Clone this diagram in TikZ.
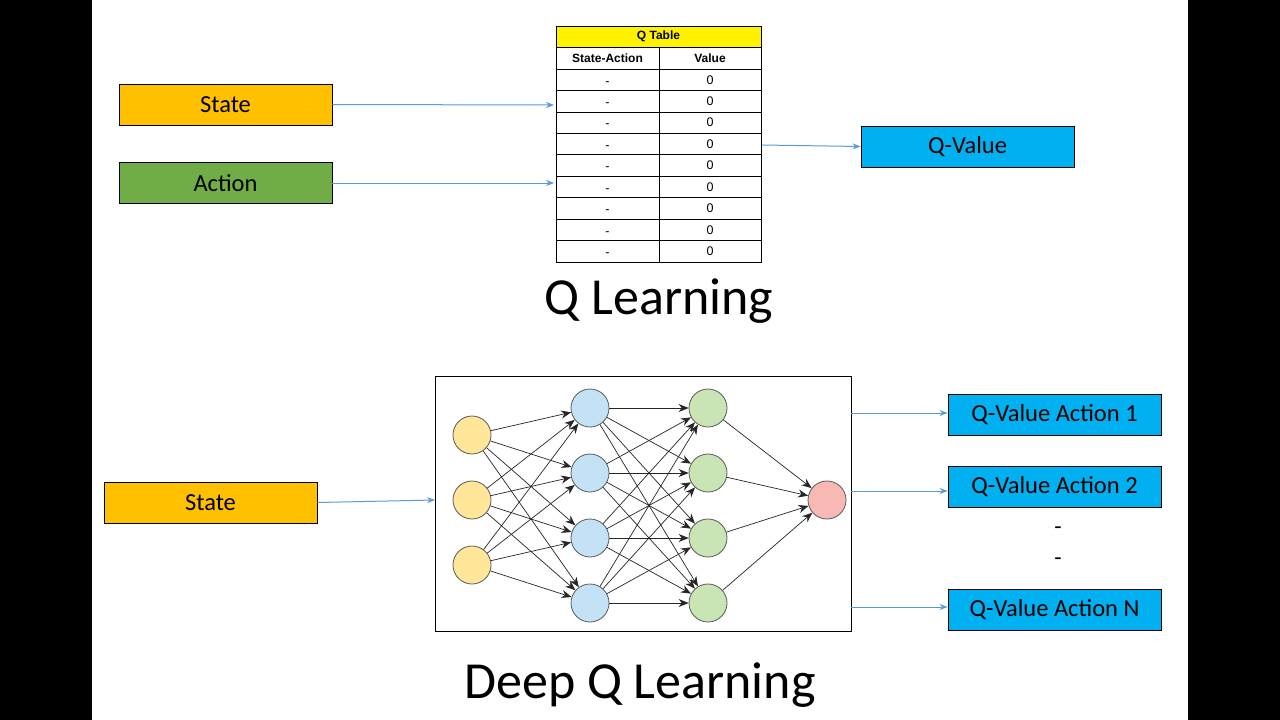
\documentclass[tikz,border=0pt]{standalone}
\usepackage{fontspec}
\setmainfont{Carlito}
\newfontfamily\arialf{Liberation Sans}
\usetikzlibrary{arrows.meta}
\definecolor{cstate}{HTML}{FFC000}
\definecolor{caction}{HTML}{70AD47}
\definecolor{cq}{HTML}{00B0F0}
\definecolor{carr}{HTML}{5B9BD5}
\definecolor{ny}{HTML}{FFE699}
\definecolor{nb}{HTML}{C4E2F5}
\definecolor{ng}{HTML}{C9E5B5}
\definecolor{np}{HTML}{F8B8B4}
\begin{document}
\begin{tikzpicture}[x=1pt,y=-1pt,
 box/.style={draw=black,line width=0.8pt,minimum width=213pt,minimum height=41pt,inner sep=0pt,font=\fontsize{24.5}{28}\selectfont},
 barr/.style={draw=carr,line width=1pt,-{Stealth[length=8pt,width=6pt]}},
 neu/.style={circle,draw=black!65,line width=0.8pt,minimum size=38pt,inner sep=0pt},
 narr/.style={draw=black!85,line width=0.7pt,-{Stealth[length=10pt,width=8pt]}},
 cell/.style={font=\arialf\fontsize{12.5}{14}\selectfont}]
\fill[black] (0,0) rectangle (1280,720);
\fill[white] (92,0) rectangle (1188,720);
\useasboundingbox (0,0) rectangle (1280,720);
% top
\node[box,fill=cstate] (s1) at (225.5,104.5) {State};
\node[box,fill=caction] (a1) at (225.5,183) {Action};
\node[box,fill=cq] (qv) at (967.5,146.5) {Q-Value};
% table
\fill[yellow] (556,26) rectangle (761,47);
\draw[line width=0.8pt] (556,26) rectangle (761,262);
\draw[line width=0.6pt] (556,47) -- (761,47);
\draw[line width=0.6pt] (659,47) -- (659,262);
\foreach \i in {0,...,8}{ \draw[line width=0.6pt] (556,{69+21.44*\i}) -- (761,{69+21.44*\i});
 \node[cell,anchor=base] at (607.5,{85+21.44*\i}) {-};
 \node[cell] at (710,{79.7+21.44*\i}) {0}; }
\node[cell,font=\arialf\bfseries\fontsize{12}{14}\selectfont] at (658.5,36.5) {Q Table};
\node[cell,font=\arialf\bfseries\fontsize{12}{14}\selectfont] at (607.5,58) {State-Action};
\node[cell,font=\arialf\bfseries\fontsize{12}{14}\selectfont] at (710,58) {Value};
\coordinate (t1) at (554,105);
\coordinate (t2) at (554,183);
\coordinate (tout) at (762,145);
\draw[barr] (s1.east) -- (t1);
\draw[barr] (a1.east) -- (t2);
\draw[barr] (tout) -- (qv.west);
\node[font=\fontsize{52}{58}\selectfont] (ql) at (659,301) {Q Learning};
% bottom
\draw[line width=0.8pt] (435,376) rectangle (851,631);
\coordinate (nnin) at (435,500);
\node[box,fill=cstate] (s2) at (210.5,502.5) {State};
\draw[barr] (s2.east) -- (nnin);
\foreach \j/\y in {1/435,2/500,3/565} \node[neu,fill=ny] (i\j) at (472,\y) {};
\foreach \j/\y in {1/408,2/473,3/538,4/603} {\node[neu,fill=nb] (h\j) at (590,\y) {};
 \node[neu,fill=ng] (g\j) at (708,\y) {};}
\node[neu,fill=np] (o) at (827,500) {};
\foreach \a in {1,2,3} \foreach \b in {1,2,3,4} \draw[narr] (i\a) -- (h\b);
\foreach \a in {1,2,3,4} \foreach \b in {1,2,3,4} \draw[narr] (h\a) -- (g\b);
\foreach \a in {1,2,3,4} \draw[narr] (g\a) -- (o);
\node[box,fill=cq] (q1) at (1054.5,415) {Q-Value Action 1};
\node[box,fill=cq] (q2) at (1054.5,486.5) {Q-Value Action 2};
\node[box,fill=cq] (q3) at (1054.5,609.5) {Q-Value Action N};
\coordinate (n1) at (851,413);
\coordinate (n2) at (851,491);
\coordinate (n3) at (851,607);
\draw[barr] (n1) -- (q1.west |- n1);
\draw[barr] (n2) -- (q2.west |- n2);
\draw[barr] (n3) -- (q3.west |- n3);
\node[font=\fontsize{24}{28}\selectfont] (d1) at (1058,531) {-};
\node[font=\fontsize{24}{28}\selectfont] (d2) at (1058,562) {-};
\node[font=\fontsize{52}{58}\selectfont] (dql) at (640,685) {Deep Q Learning};
\end{tikzpicture}
\end{document}
